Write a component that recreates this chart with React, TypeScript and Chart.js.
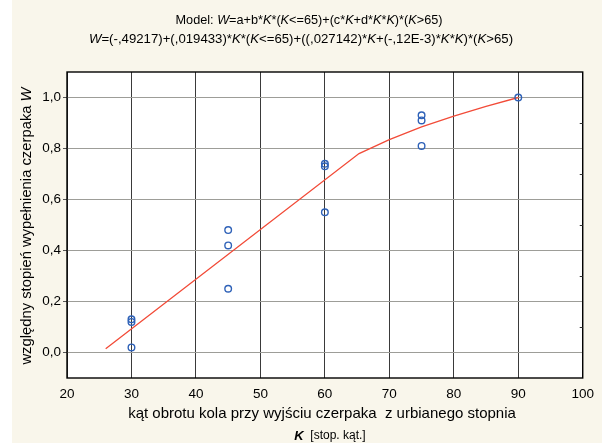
import React, { useEffect, useRef } from "react";
import { Chart, registerables } from "chart.js";

Chart.register(...registerables);

// Observed points: wheel angle K [deg] vs relative bucket fill W
const kObserved = [30, 30, 30, 45, 45, 45, 60, 60, 60, 75, 75, 75, 90];
const wObserved = [0.13, 0.12, 0.02, 0.48, 0.42, 0.25, 0.74, 0.73, 0.55, 0.93, 0.91, 0.81, 1.0];

// Fitted model curve (piecewise: linear up to K=65, quadratic above)
const kFitted = [26, 65.3, 70, 75, 80, 85, 90];
const wFitted = [0.015, 0.78, 0.835, 0.885, 0.927, 0.965, 1.0];

const yTickValues = [0, 0.2, 0.4, 0.6, 0.8, 1.0];
const yMinorTickValues = [-0.1, 0.1, 0.3, 0.5, 0.7, 0.9, 1.1];

const titleLine1 = "Model: W=a+b*K*(K<=65)+(c*K+d*K*K)*(K>65)";
const titleLine2 = "W=(-,49217)+(,019433)*K*(K<=65)+((,027142)*K+(-,12E-3)*K*K)*(K>65)";
const xTitle = "kąt obrotu kola przy wyjściu czerpaka  z urbianego stopnia";
const xUnitSymbol = "K";
const xUnit = "  [stop. kąt.]";
const yTitle = "względny stopień wypełnienia czerpaka W";

const FAMILY = '"Liberation Sans", Arial, sans-serif';
const CREAM = "#f9f6eb";

type Seg = { t: string; font: string };

// Split text so that the variable letters W and K are set in italics
function variableSegments(text: string, size: number): Seg[] {
  return text
    .split(/([WK])/)
    .filter((s) => s.length > 0)
    .map((s) => ({
      t: s,
      font: (s === "W" || s === "K" ? "italic " : "") + `${size}px ${FAMILY}`,
    }));
}

function drawSegments(ctx: CanvasRenderingContext2D, segs: Seg[], cx: number, cy: number) {
  let total = 0;
  for (const s of segs) {
    ctx.font = s.font;
    total += ctx.measureText(s.t).width;
  }
  let x = cx - total / 2;
  ctx.textAlign = "left";
  ctx.textBaseline = "middle";
  for (const s of segs) {
    ctx.font = s.font;
    ctx.fillText(s.t, x, cy);
    x += ctx.measureText(s.t).width;
  }
}

const decorPlugin = {
  id: "decor",
  beforeDraw(chart: Chart) {
    const { ctx, chartArea: a } = chart;
    ctx.save();
    ctx.fillStyle = "#ffffff";
    ctx.fillRect(0, 0, chart.width, chart.height);
    ctx.fillStyle = CREAM;
    ctx.fillRect(12, 0, chart.width - 12, chart.height);
    ctx.fillStyle = "#ffffff";
    ctx.fillRect(a.left, a.top, a.right - a.left, a.bottom - a.top);
    ctx.restore();
  },
  afterDraw(chart: Chart) {
    const { ctx, chartArea: a } = chart;
    const y = chart.scales.y;
    ctx.save();
    // frame
    ctx.strokeStyle = "#000000";
    ctx.lineWidth = 1.4;
    ctx.strokeRect(a.left, a.top, a.right - a.left, a.bottom - a.top);
    // minor ticks on the right edge
    ctx.lineWidth = 1;
    ctx.strokeStyle = "#333333";
    for (const v of yMinorTickValues) {
      const py = Math.round(y.getPixelForValue(v)) + 0.5;
      if (py <= a.top + 2 || py >= a.bottom - 2) continue;
      ctx.beginPath();
      ctx.moveTo(a.right - 3, py);
      ctx.lineTo(a.right, py);
      ctx.stroke();
    }
    ctx.fillStyle = "#000000";
    // chart titles
    drawSegments(ctx, variableSegments(titleLine1, 12.7), 309, 20);
    drawSegments(ctx, variableSegments(titleLine2, 13.2), 301, 39);
    // x axis title
    drawSegments(ctx, [{ t: xTitle, font: `15px ${FAMILY}` }], 322, 414);
    drawSegments(
      ctx,
      [
        { t: xUnitSymbol, font: `italic bold 13px ${FAMILY}` },
        { t: xUnit, font: `12px ${FAMILY}` },
      ],
      330,
      436
    );
    // y axis title
    ctx.translate(27, (a.top + a.bottom) / 2 + 1);
    ctx.rotate(-Math.PI / 2);
    drawSegments(ctx, variableSegments(yTitle, 14.8), 0, 0);
    ctx.restore();
  },
};

export default function App() {
  const ref = useRef<HTMLCanvasElement | null>(null);

  useEffect(() => {
    if (!ref.current) return;
    const chart = new Chart(ref.current, {
      type: "scatter",
      data: {
        datasets: [
          {
            label: "fit",
            data: kFitted.map((k, i) => ({ x: k, y: wFitted[i] })),
            showLine: true,
            borderColor: "#f24b38",
            borderWidth: 1.3,
            pointRadius: 0,
            fill: false,
            order: 2,
          },
          {
            label: "obs",
            data: kObserved.map((k, i) => ({ x: k, y: wObserved[i] })),
            showLine: false,
            pointRadius: 3.3,
            pointBorderWidth: 1.4,
            pointBorderColor: "#2f62b8",
            pointBackgroundColor: "rgba(0,0,0,0)",
            order: 1,
          },
        ],
      },
      plugins: [decorPlugin],
      options: {
        animation: false,
        responsive: false,
        devicePixelRatio: 1,
        layout: { padding: { top: 72, right: 19, bottom: 0, left: 0 } },
        plugins: {
          legend: { display: false },
          tooltip: { enabled: false },
          title: { display: false },
        },
        scales: {
          x: {
            type: "linear",
            min: 20,
            max: 100,
            ticks: {
              stepSize: 10,
              color: "#000000",
              font: { family: FAMILY, size: 13.5 },
              padding: 8,
            },
            grid: { color: "#3a3a3a", lineWidth: 1, drawTicks: false },
            border: { display: false },
            afterFit: (s: any) => {
              s.height = 65;
            },
          },
          y: {
            type: "linear",
            min: -0.1,
            max: 1.1,
            afterBuildTicks: (s: any) => {
              s.ticks = yTickValues.map((v) => ({ value: v }));
            },
            ticks: {
              color: "#000000",
              font: { family: FAMILY, size: 13.5 },
              padding: 2,
              callback: (v: any) => Number(v).toFixed(1).replace(".", ","),
            },
            grid: { color: "#9d9d98", lineWidth: 1, tickLength: 4, tickColor: "#555" },
            border: { display: false },
            afterFit: (s: any) => {
              s.width = 67;
            },
          },
        },
      },
    });
    return () => chart.destroy();
  }, []);

  return (
    <canvas
      ref={ref}
      width={602}
      height={443}
      style={{ position: "fixed", left: 0, top: 0, width: 602, height: 443, display: "block" }}
    />
  );
}
